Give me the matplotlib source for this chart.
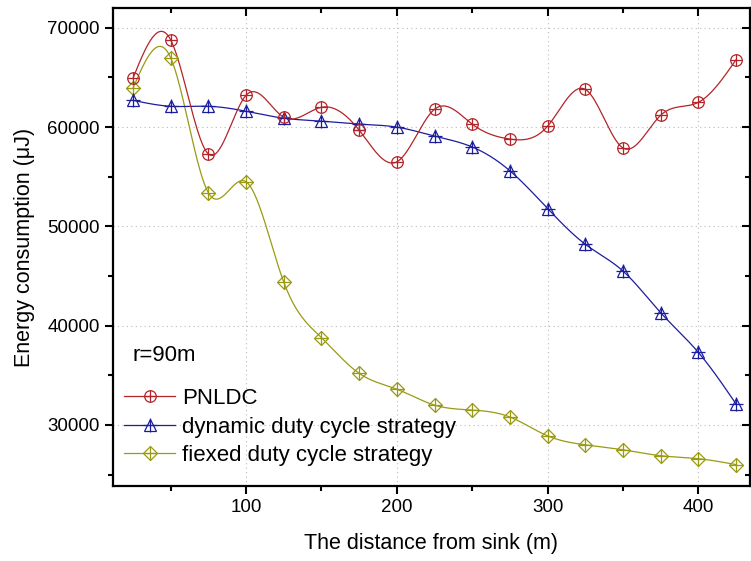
import numpy as np
import matplotlib
matplotlib.use("Agg")
import matplotlib.pyplot as plt
from matplotlib.ticker import MultipleLocator
from matplotlib.lines import Line2D
from matplotlib.legend_handler import HandlerTuple

distance = [25, 50, 75, 100, 125, 150, 175, 200, 225, 250, 275, 300, 325, 350, 375, 400, 425]
pnldc = [64900, 68800, 57300, 63200, 61000, 62000, 59700, 56500, 61800, 60300, 58800, 60100,
         63800, 57900, 61200, 62500, 66800]
dynamic = [62700, 62100, 62100, 61600, 60900, 60600, 60300, 60000, 59100, 58000, 55600, 51800,
           48200, 45500, 41300, 37300, 32100]
fixed = [63900, 67000, 53400, 54500, 44400, 38800, 35200, 33600, 32000, 31500, 30800, 28900,
         28000, 27500, 26900, 26600, 26000]
labels = ["PNLDC", "dynamic duty cycle strategy", "fiexed duty cycle strategy"]

plt.rcParams['font.family'] = ['Liberation Sans', 'DejaVu Sans']


def natural_spline(x, y, n=600):
    x = np.asarray(x, float)
    y = np.asarray(y, float)
    k = len(x)
    h = np.diff(x)
    A = np.zeros((k, k))
    b = np.zeros(k)
    A[0, 0] = 1
    A[-1, -1] = 1
    for i in range(1, k - 1):
        A[i, i - 1] = h[i - 1]
        A[i, i] = 2 * (h[i - 1] + h[i])
        A[i, i + 1] = h[i]
        b[i] = 6 * ((y[i + 1] - y[i]) / h[i] - (y[i] - y[i - 1]) / h[i - 1])
    M = np.linalg.solve(A, b)
    xs = np.linspace(x[0], x[-1], n)
    idx = np.clip(np.searchsorted(x, xs) - 1, 0, k - 2)
    x0, x1 = x[idx], x[idx + 1]
    hh = x1 - x0
    t0 = x1 - xs
    t1 = xs - x0
    ys = (M[idx] * t0 ** 3 / (6 * hh) + M[idx + 1] * t1 ** 3 / (6 * hh)
          + (y[idx] / hh - M[idx] * hh / 6) * t0 + (y[idx + 1] / hh - M[idx + 1] * hh / 6) * t1)
    return xs, ys


fig = plt.figure(figsize=(7.51, 5.61), dpi=100)
ax = fig.add_axes([113 / 751, 1 - 486 / 561, (750 - 113) / 751, (486 - 8) / 561])

red = '#B32428'
blue = '#1C1C9E'
olive = '#9A9A14'

styles = {'PNLDC': (red, 'o', 8.3), 'dyn': (blue, '^', 9.2), 'fix': (olive, 'D', 6.8)}

for vals, key in [(fixed, 'fix'), (dynamic, 'dyn'), (pnldc, 'PNLDC')]:
    col, mk, ms = styles[key]
    xs, ys = natural_spline(distance, vals)
    ax.plot(xs, ys, color=col, lw=0.9, zorder=2)
    ax.plot(distance, vals, ls='none', marker=mk, ms=ms, mfc='none', mec=col, mew=0.9, zorder=3)
    pms = ms * 1.1 if mk != 'D' else ms * 1.4
    ax.plot(distance, vals, ls='none', marker='+', ms=pms, mec=col, mew=0.9, zorder=3)

leg_handles = []
for key in ['PNLDC', 'dyn', 'fix']:
    col, mk, ms = styles[key]
    pms = ms * 1.1 if mk != 'D' else ms * 1.4
    l1 = Line2D([], [], color=col, lw=0.9, marker=mk, ms=ms, mfc='none', mec=col, mew=0.9)
    l2 = Line2D([], [], color=col, lw=0, marker='+', ms=pms, mec=col, mew=0.9)
    leg_handles.append((l1, l2))

leg = ax.legend(leg_handles, labels, loc='upper left', bbox_to_anchor=(0.0173, 0.2045),
                frameon=False, fontsize=16, handlelength=2.3, handletextpad=0.3,
                labelspacing=0.33, numpoints=1, borderpad=0, borderaxespad=0,
                handler_map={tuple: HandlerTuple(ndivide=1)})

ax.text(0.030, 0.272, 'r=90m', transform=ax.transAxes, fontsize=16, va='center')

ax.set_xlim(11.8, 434.2)
ax.set_ylim(23850, 72000)
ax.xaxis.set_major_locator(MultipleLocator(100))
ax.xaxis.set_minor_locator(MultipleLocator(50))
ax.yaxis.set_major_locator(MultipleLocator(10000))
ax.yaxis.set_minor_locator(MultipleLocator(5000))

ax.grid(True, which='major', ls=(0, (1, 3)), color='#BBBBBB', lw=0.8)
ax.set_axisbelow(True)

for s in ax.spines.values():
    s.set_linewidth(1.6)

ax.tick_params(axis='both', which='both', direction='out', width=1.5, labelsize=13.5)
ax.tick_params(axis='both', which='major', length=6)
ax.tick_params(axis='both', which='minor', length=3.5)
ax.tick_params(top=True, right=True, which='both')

# top and right ticks point inward
for t in ax.xaxis.get_major_ticks() + ax.xaxis.get_minor_ticks():
    t.tick2line.set_marker(3)
for t in ax.yaxis.get_major_ticks() + ax.yaxis.get_minor_ticks():
    t.tick2line.set_marker(0)

ax.set_xlabel('The distance from sink (m)', fontsize=15.5, labelpad=12)
ax.set_ylabel('Energy consumption (\u03bcJ)', fontsize=15.5, labelpad=9)

fig.savefig('out.png', dpi=100)
